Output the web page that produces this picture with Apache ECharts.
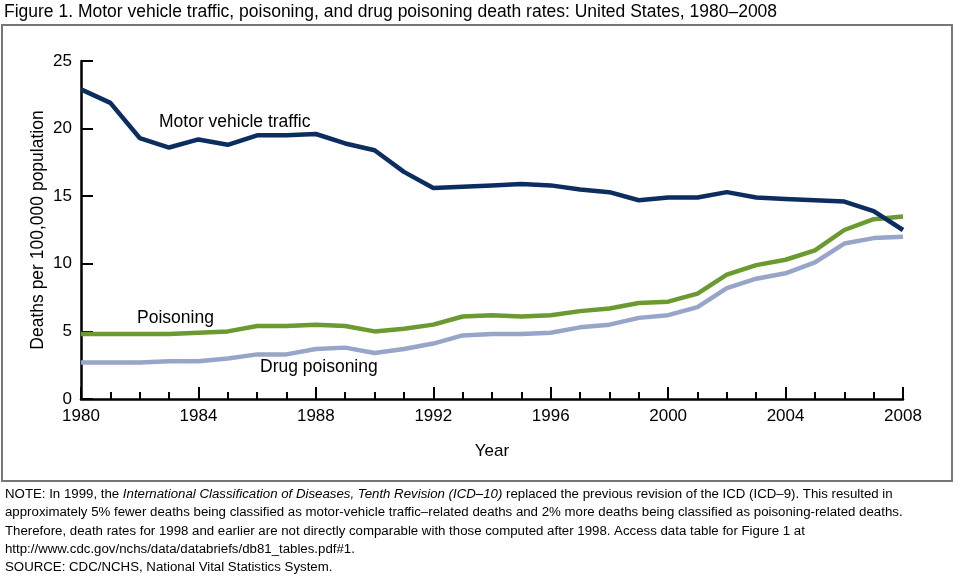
<!DOCTYPE html>
<html><head><meta charset="utf-8">
<script src="https://cdn.jsdelivr.net/npm/echarts@6/dist/echarts.min.js"></script>
<style>html,body{margin:0;padding:0;background:#fff}#c{width:960px;height:579px}</style>
</head><body><div id="c"></div>
<script>
const years = [1980,1981,1982,1983,1984,1985,1986,1987,1988,1989,1990,1991,1992,1993,1994,1995,1996,1997,1998,1999,2000,2001,2002,2003,2004,2005,2006,2007,2008];
const motorVehicle = [22.9,21.9,19.3,18.6,19.2,18.8,19.5,19.5,19.6,18.9,18.4,16.8,15.6,15.7,15.8,15.9,15.8,15.5,15.3,14.7,14.9,14.9,15.3,14.9,14.8,14.7,14.6,13.9,12.5];
const poisoning = [4.8,4.8,4.8,4.8,4.9,5.0,5.4,5.4,5.5,5.4,5.0,5.2,5.5,6.1,6.2,6.1,6.2,6.5,6.7,7.1,7.2,7.8,9.2,9.9,10.3,11.0,12.5,13.3,13.5];
const drugPoisoning = [2.7,2.7,2.7,2.8,2.8,3.0,3.3,3.3,3.7,3.8,3.4,3.7,4.1,4.7,4.8,4.8,4.9,5.3,5.5,6.0,6.2,6.8,8.2,8.9,9.3,10.1,11.5,11.9,12.0];
const yTicks = [0,5,10,15,20,25];
const xTicks = [1980,1984,1988,1992,1996,2000,2004,2008];

const pair = a => years.map((y,i)=>[y,a[i]]);
const F = 'Arial, "Liberation Sans", sans-serif';
const N = '"Liberation Sans Narrow", "Arial Narrow", Arial, "Liberation Sans", sans-serif';
const chart = echarts.init(document.getElementById('c'), null, {renderer:'canvas'});
chart.setOption({
  animation:false,
  backgroundColor:'#fff',
  grid:{left:81,right:57,top:61,bottom:180,containLabel:false},
  xAxis:{type:'value',min:xTicks[0],max:xTicks[xTicks.length-1],interval:4,
    name:'Year',nameLocation:'middle',nameGap:44,nameMoveOverlap:false,nameTextStyle:{fontFamily:F,fontSize:17,color:'#000'},
    axisLine:{lineStyle:{color:'#000',width:2.5}},
    axisTick:{inside:true,length:12,lineStyle:{color:'#000',width:2}},
    minorTick:{show:true,splitNumber:4,length:7,lineStyle:{color:'#000',width:2}},
    splitLine:{show:false},
    axisLabel:{fontFamily:F,fontSize:17,color:'#000',margin:9,formatter:v=>String(v)}},
  yAxis:{type:'value',min:yTicks[0],max:yTicks[yTicks.length-1],interval:5,
    name:'Deaths per 100,000 population',nameLocation:'middle',nameGap:34,nameRotate:90,nameMoveOverlap:false,
    nameTextStyle:{fontFamily:F,fontSize:17.5,color:'#000'},
    axisLine:{show:true,lineStyle:{color:'#000',width:2.5}},
    axisTick:{show:true,inside:true,length:12,lineStyle:{color:'#000',width:2}},
    splitLine:{show:false},
    axisLabel:{fontFamily:F,fontSize:17,color:'#000',margin:9}},
  series:[
    {name:'Drug poisoning',type:'line',data:pair(drugPoisoning),symbol:'none',lineStyle:{color:'#97a5c8',width:4.5},z:3},
    {name:'Poisoning',type:'line',data:pair(poisoning),symbol:'none',lineStyle:{color:'#6a9a30',width:4.5},z:4},
    {name:'Motor vehicle traffic',type:'line',data:pair(motorVehicle),symbol:'none',lineStyle:{color:'#0c2d5f',width:4.5},z:5}
  ],
  graphic:[
    {type:'text',left:4,top:3,style:{text:'Figure 1. Motor vehicle traffic, poisoning, and drug poisoning death rates: United States, 1980\u20132008',font:'17.5px '+F,fill:'#000'}},
    {type:'rect',shape:{x:2,y:25,width:950,height:456},style:{fill:'none',stroke:'#777',lineWidth:2},z:-1},
    {type:'text',left:159,top:113,style:{text:'Motor vehicle traffic',font:'17.5px '+F,fill:'#000'}},
    {type:'text',left:137,top:309,style:{text:'Poisoning',font:'17.5px '+F,fill:'#000'}},
    {type:'text',left:260,top:358,style:{text:'Drug poisoning',font:'17.5px '+F,fill:'#000'}},
    {type:'text',left:5,top:488,style:{
      text:'{n|NOTE: In 1999, the }{i|International Classification of Diseases, Tenth Revision (ICD\u201310)}{n| replaced the previous revision of the ICD (ICD\u20139). This resulted in}\n'+
           '{n|approximately 5% fewer deaths being classified as motor-vehicle traffic\u2013related deaths and 2% more deaths being classified as poisoning-related deaths.}\n'+
           '{n|Therefore, death rates for 1998 and earlier are not directly comparable with those computed after 1998. Access data table for Figure 1 at}\n'+
           '{n|http://www.cdc.gov/nchs/data/databriefs/db81_tables.pdf#1.}\n'+
           '{n|SOURCE: CDC/NCHS, National Vital Statistics System.}',
      rich:{n:{fontFamily:N,fontSize:13.25,fill:'#000',lineHeight:18.3},i:{fontFamily:N,fontSize:13.25,fontStyle:'italic',fill:'#000',lineHeight:18.3}}
    }}
  ]
});
</script></body></html>
